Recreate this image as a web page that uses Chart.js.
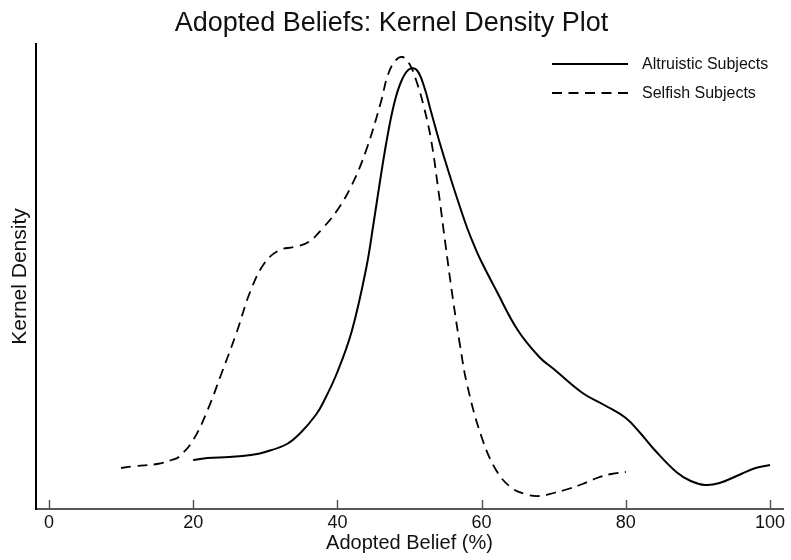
<!DOCTYPE html>
<html>
<head>
<meta charset="utf-8">
<script src="https://cdn.jsdelivr.net/npm/chart.js@4.4.1/dist/chart.umd.min.js"></script>
<style>
  html, body { margin: 0; padding: 0; background: #fff; }
  #wrap { width: 791px; height: 560px; }
</style>
</head>
<body>
<div id="wrap"><canvas id="densityChart"></canvas></div>
<script>
// kernel density estimates, adopted belief (%) vs density
var altruisticX = [20, 22, 25, 28, 30, 33, 35, 37, 38, 40, 42, 44, 45, 46, 47, 48, 49, 50, 51, 52, 53, 54, 55, 56, 57, 58, 59, 60, 62, 65, 68, 70, 74, 77, 80, 82, 84, 87, 89, 91, 93, 96, 98, 100];
var altruisticDensity = [0.0049, 0.0051, 0.0052, 0.0054, 0.0057, 0.0065, 0.0077, 0.0094, 0.0106, 0.0137, 0.0178, 0.0241, 0.0285, 0.0332, 0.0375, 0.0409, 0.0430, 0.0440, 0.0439, 0.0423, 0.0397, 0.0371, 0.0347, 0.0324, 0.0302, 0.0281, 0.0263, 0.0247, 0.0219, 0.0179, 0.0152, 0.0140, 0.0116, 0.0104, 0.0091, 0.0076, 0.0059, 0.0037, 0.0028, 0.0024, 0.0026, 0.0035, 0.0041, 0.0044];

var selfishX = [10, 12, 15, 17, 18, 20, 22, 24, 26, 28, 30, 32, 34, 36, 38, 40, 42, 44, 46, 47, 48, 49, 50, 51, 52, 53, 54, 55, 56, 57, 58, 60, 62, 64, 66, 68, 70, 72, 74, 76, 78, 80];
var selfishDensity = [0.0041, 0.0043, 0.0045, 0.0049, 0.0052, 0.0069, 0.0099, 0.0137, 0.0176, 0.0219, 0.0247, 0.0259, 0.0262, 0.0267, 0.0281, 0.0299, 0.0324, 0.0359, 0.0406, 0.0434, 0.0448, 0.0452, 0.0445, 0.0427, 0.0402, 0.0369, 0.0319, 0.0264, 0.0211, 0.0164, 0.0124, 0.0072, 0.0039, 0.0022, 0.0015, 0.0013, 0.0016, 0.0020, 0.0025, 0.0031, 0.0035, 0.0037];

var xTicks = [0, 20, 40, 60, 80, 100];
var seriesNames = ['Altruistic Subjects', 'Selfish Subjects'];

var FONT = '"Liberation Sans", Arial, Helvetica, sans-serif';

function toPoints(xs, ys) {
  return xs.map(function (x, i) { return { x: x, y: ys[i] }; });
}

// x tick marks point up into the plot, so draw them here
var innerTicks = {
  id: 'innerTicks',
  afterDraw: function (chart) {
    var ctx = chart.ctx;
    var xs = chart.scales.x;
    var base = chart.chartArea.bottom;
    ctx.save();
    ctx.strokeStyle = '#555';
    ctx.lineWidth = 1.5;
    xTicks.forEach(function (v) {
      var px = Math.round(xs.getPixelForValue(v)) + 0.5;
      ctx.beginPath();
      ctx.moveTo(px, base);
      ctx.lineTo(px, base - 9);
      ctx.stroke();
    });
    ctx.restore();
  }
};

// legend drawn inside the plot, top right, as short line samples + labels
var insideLegend = {
  id: 'insideLegend',
  afterDraw: function (chart) {
    var ctx = chart.ctx;
    var x0 = 552, x1 = 628, tx = 642;
    var rows = [64, 93];
    ctx.save();
    chart.data.datasets.forEach(function (ds, i) {
      var y = rows[i];
      ctx.beginPath();
      ctx.setLineDash(ds.borderDash || []);
      ctx.lineWidth = ds.borderWidth;
      ctx.strokeStyle = ds.borderColor;
      ctx.moveTo(x0, y);
      ctx.lineTo(x1, y);
      ctx.stroke();
      ctx.setLineDash([]);
      ctx.fillStyle = '#111';
      ctx.font = '16px ' + FONT;
      ctx.textBaseline = 'middle';
      ctx.textAlign = 'left';
      ctx.fillText(ds.label, tx, y + 1);
    });
    ctx.restore();
  }
};

var ctx = document.getElementById('densityChart').getContext('2d');
var densityChart = new Chart(ctx, {
  type: 'line',
  data: {
    datasets: [{
      label: seriesNames[0],
      data: toPoints(altruisticX, altruisticDensity),
      borderColor: '#000',
      borderWidth: 2,
      backgroundColor: 'transparent',
      pointRadius: 0,
      tension: 0.4
    },
    {
      label: seriesNames[1],
      data: toPoints(selfishX, selfishDensity),
      borderColor: '#000',
      borderWidth: 1.8,
      borderDash: [10, 6.5],
      backgroundColor: 'transparent',
      pointRadius: 0,
      tension: 0.4
    }]
  },
  options: {
    responsive: true,
    maintainAspectRatio: false,
    animation: false,
    layout: { padding: { left: 0, right: 8, top: 0, bottom: 0 } },
    plugins: {
      legend: { display: false },
      tooltip: { enabled: false },
      title: {
        display: true,
        text: 'Adopted Beliefs: Kernel Density Plot',
        color: '#111',
        font: { family: FONT, size: 27, weight: 'normal', lineHeight: 1.2 },
        padding: { top: 7, bottom: 4.6 }
      }
    },
    scales: {
      x: {
        type: 'linear',
        min: -1.8,
        max: 101.8,
        afterBuildTicks: function (scale) {
          scale.ticks = xTicks.map(function (v) { return { value: v }; });
        },
        afterFit: function (scale) { scale.height = 51; },
        ticks: {
          color: '#111',
          font: { family: FONT, size: 18 },
          padding: 3,
          maxRotation: 0,
          autoSkip: false
        },
        grid: { display: false, drawTicks: false },
        border: { display: true, color: '#555', width: 2 },
        title: {
          display: true,
          text: 'Adopted Belief (%)',
          color: '#111',
          font: { family: FONT, size: 20 },
          padding: { top: 0, bottom: 5 }
        }
      },
      y: {
        type: 'linear',
        min: 0,
        max: 0.0465,
        afterFit: function (scale) { scale.width = 36; },
        ticks: { display: false },
        grid: { display: false, drawTicks: false },
        border: { display: true, color: '#000', width: 2 },
        title: {
          display: true,
          text: 'Kernel Density',
          color: '#111',
          font: { family: FONT, size: 21 },
          padding: { top: 8, bottom: 0 }
        }
      }
    }
  },
  plugins: [innerTicks, insideLegend]
});
</script>
</body>
</html>
